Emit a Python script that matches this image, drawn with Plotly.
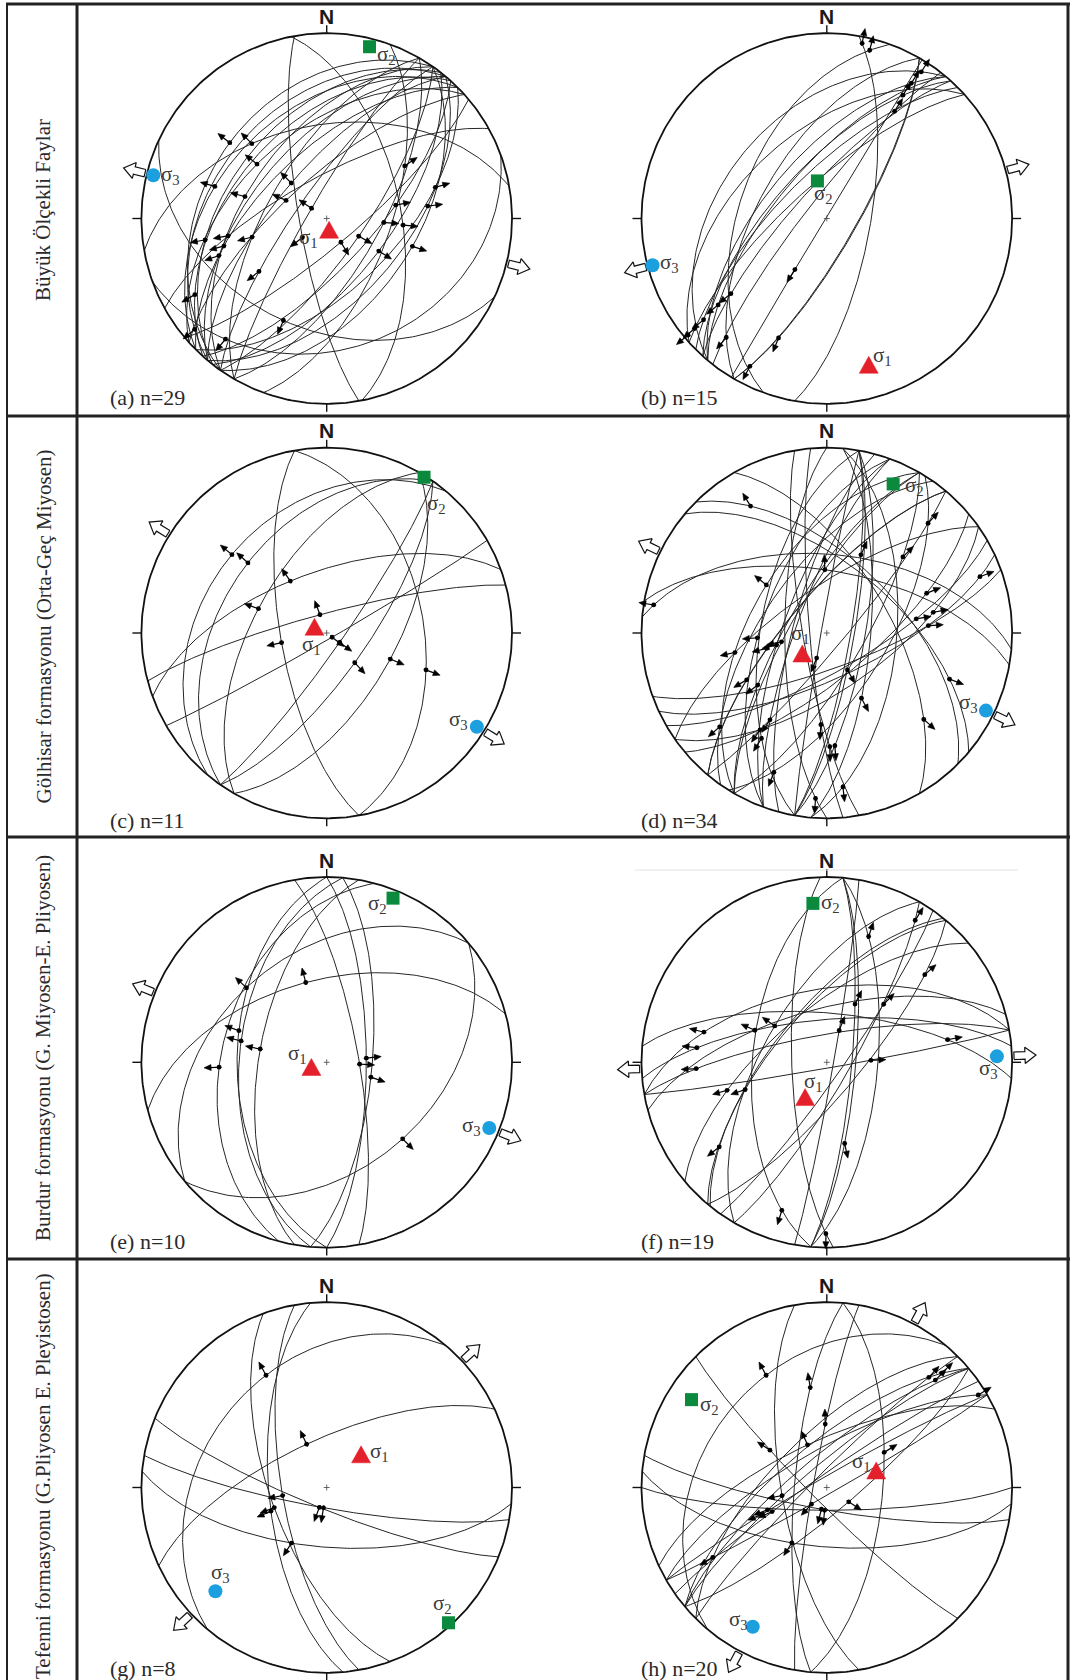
import numpy as np
import plotly.graph_objects as go

# ---------------------------------------------------------------------------
# Fault-slip measurements, lower hemisphere.
# For every fault: dip direction and dip of the plane, and the trend of its
# striation; the striation plunge follows from the plane.
# ---------------------------------------------------------------------------
a_dipdir = [305, 310, 315, 308, 312, 318, 305, 310, 315, 300, 310, 318, 305, 300,
            125, 130, 135, 128, 120, 132, 125, 140, 110,
            79, 205, 331, 160, 350, 260]
a_dip = [34, 38, 41, 45, 48, 51, 54, 57, 61, 64, 68, 72, 77, 82,
         51, 55, 59, 63, 67, 70, 74, 78, 62,
         57, 40, 72, 30, 48, 78]
a_trend = [308, 230, 286, 260, 240, 308, 285, 251, 255, 256, 315, 294, 232, 304,
           108, 83, 74, 122, 94, 79, 119, 149, 56,
           95, 203, 260, 220, 315, 232]

b_dipdir = [100, 290, 310, 310, 312, 308, 318, 315, 310, 312, 300, 120, 301, 120, 318]
b_dip = [70.7, 51, 42.3, 62.6, 67, 81, 51.4, 70, 67.8, 76, 60, 77, 89.5, 77.4, 74.7]
b_trend = [11.4, 14.3, 32.8, 32, 31.7, 32.3, 230, 230.6, 231.5, 231.9, 220.2, 202, 212, 207.5, 230.2]

c_dipdir = [310, 305, 340, 300, 345, 260, 125, 150, 125, 120, 80]
c_dip = [34, 42.7, 62.8, 58.3, 81.5, 69.7, 83, 87.2, 72.4, 59.8, 46.5]
c_trend = [309.6, 311.7, 325, 289.6, 339.7, 257.9, 126, 128, 136.7, 112.3, 110.4]

d_dipdir = [45, 10, 100, 120, 122, 300, 5, 140, 155, 150, 145, 160, 40, 60, 100, 95, 280,
            300, 310, 325, 290, 290, 310, 300, 305, 290, 280, 265, 260, 100, 285, 95, 270, 130]
d_dip = [58, 62.5, 79.6, 73.7, 63.6, 56, 55, 70.5, 70, 73, 65, 74.3, 60, 62, 78, 70.7, 87.5,
         74.4, 73.2, 70.6, 61.4, 70.7, 73.4, 72.7, 62, 76.4, 60.7, 82.5, 79.5, 73.2, 75, 59,
         71.5, 82.8]
d_trend = [329, 358.2, 23.6, 45, 42.7, 308.5, 279.2, 68.3, 69.8, 81, 79, 85.9, 110.6, 131.7,
           150.8, 152, 202, 259, 255.7, 258, 266, 256.6, 239.7, 233, 228.8, 213.2, 211.8,
           183.7, 178.5, 175.9, 200.8, 174, 183.9, 214.6]

e_dipdir = [320, 345, 270, 275, 280, 285, 90, 80, 95, 140]
e_dip = [40.8, 53.3, 50, 51, 60, 42.8, 72.6, 75.9, 70, 41.5]
e_trend = [312.9, 345.3, 289.8, 284, 281.3, 267.4, 84, 93.2, 108.6, 135.2]

f_dipdir = [350, 345, 300, 355, 350, 320, 310, 309, 275, 268, 95, 170, 5, 100, 95, 125, 95, 120, 130]
f_dip = [57.4, 66.2, 62, 71.2, 77.8, 66.5, 67.5, 66.5, 57, 74.6, 77.3, 87.4, 68.3, 87, 79,
         83.2, 67.5, 80, 76]
f_trend = [283.8, 294, 304.9, 276.4, 267.2, 254.3, 251.5, 231.8, 196.9, 180.3, 167.6, 87.4,
           79.4, 21.3, 25.9, 44.4, 18.4, 31.9, 48.2]

g_dipdir = [310, 335, 260, 250, 265, 202, 190, 185]
g_dip = [33.6, 69, 70.3, 65.2, 64.4, 80.7, 81, 63.7]
g_trend = [331.6, 335.1, 259.6, 249, 247, 200.3, 189, 212.4]

h_dipdir = [310, 275, 280, 335, 225, 260, 320, 325, 150, 190, 180, 185, 315, 140, 95, 320,
            315, 320, 330, 330]
h_dip = [33.6, 75.8, 84, 69.4, 83.3, 70, 80, 84.5, 87, 80.2, 80, 63.8, 66.8, 79, 65.3, 76.4,
         84, 70.8, 73.5, 85.5]
h_trend = [331.6, 350.6, 358.6, 335.7, 303.3, 259.7, 249.4, 246.2, 222.6, 194, 185.5, 212.3,
           238.5, 123, 58.5, 45.3, 42.8, 45.2, 58.6, 247.5]

# Principal stress axes (trend, plunge) of the inversions, sites a..h
sigma1_trend = [168, 164, 297, 230, 253, 212, 46, 71]
sigma1_plunge = [85, 19, 84, 76, 83, 72, 69, 67]
sigma2_trend = [14, 346, 32, 24, 22, 355, 138, 303]
sigma2_plunge = [5, 73, 1, 13, 5, 15, 2, 14]
sigma3_trend = [284, 255, 122, 116, 112, 88, 227, 208]
sigma3_plunge = [4, 3, 5, 5, 6, 9, 19, 16]

panel_tags = ["(a)", "(b)", "(c)", "(d)", "(e)", "(f)", "(g)", "(h)"]
row_titles = [
    "Büyük Ölçekli Faylar",
    "Gölhisar formasyonu (Orta-Geç Miyosen)",
    "Burdur formasyonu (G. Miyosen-E. Pliyosen)",
    "Tefenni formasyonu (G.Pliyosen E. Pleyistosen)",
]

faults = [
    (a_dipdir, a_dip, a_trend), (b_dipdir, b_dip, b_trend),
    (c_dipdir, c_dip, c_trend), (d_dipdir, d_dip, d_trend),
    (e_dipdir, e_dip, e_trend), (f_dipdir, f_dip, f_trend),
    (g_dipdir, g_dip, g_trend), (h_dipdir, h_dip, h_trend),
]

# ---------------------------------------------------------------------------
# Page geometry (pixels, y downwards)
# ---------------------------------------------------------------------------
W, H = 1070, 1680
R = 185.3
COL_X = [326.7, 826.8]
ROW_Y = [218.5, 633.0, 1062.3, 1487.5]
ROW_EDGES = [4, 416, 837, 1259, 1680]
TITLE_Y = [210, 626.5, 1048, 1476]
TAG_X = [108, 639]
TAG_Y = [397, 820, 1241, 1668]

# offsets of the sigma labels from their symbols: (s1, s2, s3) per net
LABEL_OFF = [
    [(-21, 8), (17, 8), (17, 0)],
    [(14, -9), (6, 13), (17, -2)],
    [(-3, 18), (12, 27), (-18, -7)],
    [(-2, -20), (21, 2), (-17, -8)],
    [(-14, -13), (-16, 6), (-18, -2)],
    [(8, -15), (18, 0), (-8, 13)],
    [(18, -2), (-6, -19), (5, -18)],
    [(-15, -8), (18, 5), (-14, -7)],
]

SERIF = "Liberation Serif, Times New Roman, serif"
SANS = "Liberation Sans, Arial, sans-serif"


def project(cx, cy, trend, plunge):
    """Schmidt (equal-area) lower-hemisphere projection of a line."""
    t = np.radians(trend)
    p = np.radians(plunge)
    r = R * np.sqrt(2.0) * np.sin((np.pi / 2 - p) / 2)
    return cx + r * np.sin(t), cy - r * np.cos(t)


def great_circle(cx, cy, dipdir, dip, n=161):
    s = np.radians(dipdir - 90)
    d = np.radians(dipdir)
    dp = np.radians(dip)
    th = np.linspace(0, np.pi, n)
    e = np.cos(th) * np.sin(s) + np.sin(th) * np.sin(d) * np.cos(dp)
    nn = np.cos(th) * np.cos(s) + np.sin(th) * np.cos(d) * np.cos(dp)
    u = -np.sin(th) * np.sin(dp)
    k = R / np.sqrt(1 - u)
    return cx + k * e, cy - k * nn


def striation_plunge(dipdir, dip, trend):
    delta = np.radians(((trend - dipdir + 180) % 360) - 180)
    return np.degrees(np.arctan(np.tan(np.radians(dip)) * np.cos(delta)))


arc_x, arc_y = [], []
prim_x, prim_y = [], []
tick_x, tick_y = [], []
cross_x, cross_y = [], []
shaft_x, shaft_y = [], []
head_x, head_y = [], []
dot_x, dot_y = [], []
hol_x, hol_y = [], []
tri_x, tri_y = [], []
sq_x, sq_y = [], []
ci_x, ci_y = [], []
annotations = []

phi = np.linspace(0, 2 * np.pi, 361)

for i in range(8):
    cx = COL_X[i % 2]
    cy = ROW_Y[i // 2]
    dd_list, dip_list, tr_list = faults[i]

    # primitive circle, ticks and centre cross
    prim_x += list(cx + R * np.cos(phi)) + [None]
    prim_y += list(cy + R * np.sin(phi)) + [None]
    for (ux, uy, ln) in [(0, -1, 8), (0, 1, 8), (1, 0, 9), (-1, 0, 9)]:
        tick_x += [cx + ux * R, cx + ux * (R + ln), None]
        tick_y += [cy + uy * R, cy + uy * (R + ln), None]
    cross_x += [cx - 3, cx + 3, None, cx, cx, None]
    cross_y += [cy, cy, None, cy - 3, cy + 3, None]

    # fault planes and slip vectors
    for dd, dip, tr in zip(dd_list, dip_list, tr_list):
        gx, gy = great_circle(cx, cy, dd, dip)
        arc_x += list(gx) + [None]
        arc_y += list(gy) + [None]

        pl = striation_plunge(dd, dip, tr)
        px, py = project(cx, cy, tr, pl)
        ux, uy = np.sin(np.radians(tr)), -np.cos(np.radians(tr))
        vx, vy = -uy, ux
        dot_x.append(px)
        dot_y.append(py)
        shaft_x += [px - 2.5 * ux, px + 9 * ux, None]
        shaft_y += [py - 2.5 * uy, py + 9 * uy, None]
        bx, by = px + 8 * ux, py + 8 * uy
        tx, ty = px + 15 * ux, py + 15 * uy
        head_x += [tx, bx + 3.0 * vx, bx - 3.0 * vx, tx, None]
        head_y += [ty, by + 3.0 * vy, by - 3.0 * vy, ty, None]

    # extension arrows along sigma3
    for az in (sigma3_trend[i], sigma3_trend[i] + 180):
        ux, uy = np.sin(np.radians(az)), -np.cos(np.radians(az))
        vx, vy = -uy, ux
        r0, r1, r2 = R + 2, R + 13, R + 24
        sw, hw = 3.8, 8.2
        pts = [(r0, sw), (r1, sw), (r1, hw), (r2, 0), (r1, -hw), (r1, -sw), (r0, -sw), (r0, sw)]
        for (a, b) in pts:
            hol_x.append(cx + a * ux + b * vx)
            hol_y.append(cy + a * uy + b * vy)
        hol_x.append(None)
        hol_y.append(None)

    # stress axes
    s1x, s1y = project(cx, cy, sigma1_trend[i], sigma1_plunge[i])
    s2x, s2y = project(cx, cy, sigma2_trend[i], sigma2_plunge[i])
    s3x, s3y = project(cx, cy, sigma3_trend[i], sigma3_plunge[i])
    tri_x += [s1x, s1x + 9.5, s1x - 9.5, s1x, None]
    tri_y += [s1y - 8.5, s1y + 8.5, s1y + 8.5, s1y - 8.5, None]
    sq_x.append(s2x)
    sq_y.append(s2y)
    ci_x.append(s3x)
    ci_y.append(s3y)

    for k, (sx, sy) in enumerate([(s1x, s1y), (s2x, s2y), (s3x, s3y)]):
        ox, oy = LABEL_OFF[i][k]
        annotations.append(dict(
            x=sx + ox, y=sy + oy, xref="x", yref="y", showarrow=False,
            text="σ<sub>%d</sub>" % (k + 1),
            font=dict(family=SERIF, size=21, color="#3a3a3a"),
            xanchor="center", yanchor="middle"))

    # north label and site tag
    annotations.append(dict(
        x=cx, y=cy - R - 17, xref="x", yref="y", showarrow=False, text="<b>N</b>",
        font=dict(family=SANS, size=21, color="#1a1a1a"), xanchor="center", yanchor="middle"))
    annotations.append(dict(
        x=TAG_X[i % 2], y=TAG_Y[i // 2], xref="x", yref="y", showarrow=False,
        text="%s n=%d" % (panel_tags[i], len(dd_list)),
        font=dict(family=SERIF, size=22, color="#2a2a2a"), xanchor="left", yanchor="middle"))

# row titles in the left column
for r in range(4):
    annotations.append(dict(
        x=43, y=TITLE_Y[r], xref="x", yref="y", showarrow=False,
        text=row_titles[r], textangle=-90,
        font=dict(family=SERIF, size=21, color="#2a2a2a"), xanchor="center", yanchor="middle"))

fig = go.Figure()
common = dict(hoverinfo="skip", showlegend=False)
fig.add_trace(go.Scatter(x=arc_x, y=arc_y, mode="lines",
                         line=dict(color="#262626", width=1.0), **common))
fig.add_trace(go.Scatter(x=prim_x, y=prim_y, mode="lines",
                         line=dict(color="#111111", width=1.8), **common))
fig.add_trace(go.Scatter(x=tick_x, y=tick_y, mode="lines",
                         line=dict(color="#111111", width=1.4), **common))
fig.add_trace(go.Scatter(x=cross_x, y=cross_y, mode="lines",
                         line=dict(color="#444444", width=0.8), **common))
fig.add_trace(go.Scatter(x=shaft_x, y=shaft_y, mode="lines",
                         line=dict(color="#000000", width=1.2), **common))
fig.add_trace(go.Scatter(x=head_x, y=head_y, mode="lines", fill="toself",
                         fillcolor="#000000", line=dict(color="#000000", width=0.6), **common))
fig.add_trace(go.Scatter(x=dot_x, y=dot_y, mode="markers",
                         marker=dict(color="#000000", size=4.8), **common))
fig.add_trace(go.Scatter(x=hol_x, y=hol_y, mode="lines", fill="toself",
                         fillcolor="#ffffff", line=dict(color="#111111", width=1.2), **common))
fig.add_trace(go.Scatter(x=tri_x, y=tri_y, mode="lines", fill="toself",
                         fillcolor="#e4202a", line=dict(color="#e4202a", width=0.5), **common))
fig.add_trace(go.Scatter(x=sq_x, y=sq_y, mode="markers",
                         marker=dict(symbol="square", color="#0b8a3e", size=13), **common))
fig.add_trace(go.Scatter(x=ci_x, y=ci_y, mode="markers",
                         marker=dict(symbol="circle", color="#1b9fdf", size=14), **common))

# frame of the table
shapes = []


def hline(y, x0, x1, w, c="#222222"):
    shapes.append(dict(type="line", xref="x", yref="y", x0=x0, x1=x1, y0=y, y1=y,
                       line=dict(color=c, width=w)))


def vline(x, y0, y1, w, c="#222222"):
    shapes.append(dict(type="line", xref="x", yref="y", x0=x, x1=x, y0=y0, y1=y1,
                       line=dict(color=c, width=w)))


hline(4, 6, 1070, 3)
for yb in ROW_EDGES[1:4]:
    hline(yb, 6, 1070, 3)
vline(7, 3, 1680, 2)
vline(77, 3, 1680, 3)
vline(1068, 3, 1680, 3)
hline(870, 635, 1018, 1, "#e2e2e2")

fig.update_layout(
    width=W, height=H, margin=dict(l=0, r=0, t=0, b=0),
    paper_bgcolor="white", plot_bgcolor="white", showlegend=False, hovermode=False,
    xaxis=dict(range=[0, W], visible=False, fixedrange=True),
    yaxis=dict(range=[H, 0], visible=False, fixedrange=True),
    shapes=shapes, annotations=annotations,
)

fig.write_html("out.html", config={"displayModeBar": False})
